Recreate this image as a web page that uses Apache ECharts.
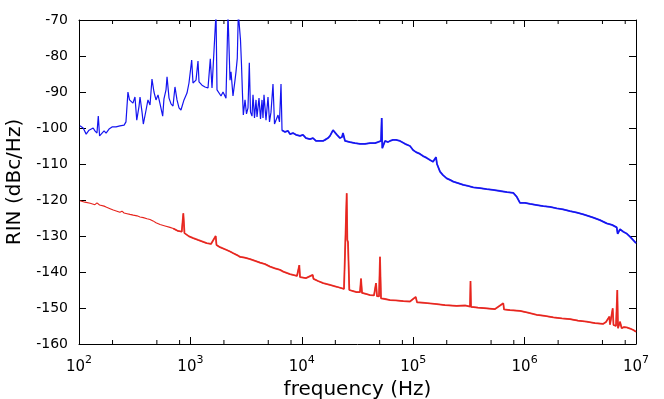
<!DOCTYPE html>
<html>
<head>
<meta charset="utf-8">
<script src="https://cdn.jsdelivr.net/npm/echarts@6/dist/echarts.min.js"></script>
<style>
html,body{margin:0;padding:0;background:#fff;}
#chart{width:664px;height:399px;}
</style>
</head>
<body>
<div id="chart"></div>
<script>
// ---- data (frequency in Hz, RIN in dBc/Hz) ----
var blueFreq = [102,109,116,123,128,134,139,145,149,153,158,168,175,186,198,215,233,254,264,275,284,293,305,318,330,346,353,368,378,400,416,434,452,471,491,512,534,564,579,604,617,643,670,698,727,758,790,823,876,932,971,1027,1055,1123,1170,1195,1271,1353,1439,1509,1563,1628,1698,1733,1806,1883,1962,2087,2175,2268,2315,2412,2515,2566,2636,2692,2760,2817,2876,2936,2986,3092,3188,3289,3379,3464,3573,3647,3762,3881,3962,4129,4259,4393,4484,4578,4772,4973,5130,5290,5513,5689,5868,6115,6306,6507,6643,7068,7518,7838,8337,8869,9634,10250,10907,11847,12604,13415,14570,15500,16160,17190,17910,19060,19860,20700,22030,22960,23430,24430,27080,30030,33310,36930,40950,45410,48310,51400,52150,52800,55840,59400,61910,65880,70070,76120,84400,93600,99590,105950,115100,122500,132200,141500,150500,160200,163500,174000,185100,199800,214000,229100,252500,281700,310400,346400,397700,456900,520300,601500,695000,791800,849600,909300,1008300,1118100,1292000,1472000,1690000,1942000,2212000,2556000,2954000,3365000,3709000,4138000,4752000,5457000,6090000,6711000,6850000,7185000,7692000,8300000,8835000,9400000,10000000];
var blueRin = [-99.4,-100.0,-101.7,-100.6,-101.1,-100.0,-100.8,-101.4,-96.7,-102.2,-101.7,-100.8,-101.4,-100.3,-99.7,-99.7,-99.4,-99.2,-98.3,-90.0,-92.2,-91.7,-93.1,-91.4,-97.8,-93.9,-91.4,-95.6,-98.9,-95.0,-92.2,-93.6,-86.4,-90.0,-92.2,-90.8,-93.3,-96.7,-91.9,-89.4,-85.8,-91.7,-93.3,-93.9,-88.6,-92.2,-94.4,-95.0,-92.2,-90.3,-87.5,-81.1,-87.5,-86.7,-81.4,-87.2,-88.1,-88.6,-88.9,-80.8,-88.9,-89.4,-68,-89.4,-88.9,-91.1,-90.0,-91.7,-68,-86.7,-84.4,-91.1,-86.7,-84.4,-80.6,-68,-68,-75.6,-82.5,-90.8,-96.4,-92.2,-96.1,-94.4,-81.9,-95.6,-96.7,-90.8,-97.2,-92.2,-96.9,-91.7,-97.5,-92.2,-97.2,-90.8,-97.8,-91.4,-98.3,-95.6,-87.8,-98.9,-99.2,-96.4,-98.3,-87.8,-100.6,-101.1,-100.8,-101.7,-101.4,-101.9,-102.2,-101.9,-102.8,-103.1,-102.8,-103.6,-103.6,-103.6,-103.3,-102.8,-102.2,-100.6,-101.1,-101.9,-102.8,-102.5,-101.4,-103.6,-103.9,-104.2,-104.4,-104.4,-104.2,-104.2,-103.9,-103.6,-97.2,-105.6,-103.6,-103.9,-103.6,-103.3,-103.3,-103.6,-104.4,-105.0,-106.1,-106.7,-107.2,-107.8,-108.3,-108.9,-109.4,-108.1,-110.0,-112.1,-113.1,-114.0,-114.4,-114.9,-115.3,-115.8,-116.1,-116.5,-116.7,-117.0,-117.2,-117.5,-117.8,-118.0,-119.1,-120.8,-120.8,-121.1,-121.4,-121.7,-121.9,-122.3,-122.6,-123.1,-123.5,-124.0,-124.4,-124.9,-125.6,-126.5,-126.9,-127.6,-129.4,-128.1,-128.8,-129.4,-130.2,-131.1,-132.0];

var redFreq = [102,113,126,139,145,149,153,158,168,177,190,203,219,233,243,254,270,287,307,332,353,378,408,434,452,462,491,534,592,656,702,774,836,864,885,894,971,1062,1170,1271,1401,1531,1687,1715,1844,2118,2268,2428,2620,2788,3073,3428,3801,4215,4674,5183,5747,6373,6824,7838,9056,9497,9634,10907,12527,12735,13977,15596,17910,20570,23920,24680,25300,25620,25980,26700,28820,31110,33310,34000,34710,37710,40950,44480,46370,47320,49320,50350,51400,55840,61910,70070,81500,93600,105300,108200,127600,162500,193000,245800,291700,323600,326900,330300,381700,456900,542500,643900,653400,739600,909300,1073000,1284000,1525000,1810000,2166000,2556000,3015000,3610000,4285000,5087000,5379000,5760000,5844000,6178000,6281000,6614000,6794000,6893000,7185000,7437000,7800000,8253000,8835000,9459000,10000000];
var redRin = [-120.2,-120.6,-120.9,-121.3,-120.8,-120.3,-121.4,-121.5,-121.7,-122.0,-122.4,-122.8,-123.1,-123.4,-123.1,-123.6,-123.8,-124.0,-124.2,-124.4,-124.7,-124.9,-125.2,-125.4,-125.1,-125.8,-126.3,-126.8,-127.2,-127.6,-127.9,-128.6,-128.8,-123.7,-129.2,-129.7,-130.1,-130.6,-131.1,-131.5,-132.0,-132.2,-130.0,-132.5,-133.1,-133.9,-134.3,-134.8,-135.3,-135.8,-136.0,-136.4,-136.9,-137.4,-137.8,-138.5,-139.0,-139.4,-139.9,-140.6,-141.1,-138.1,-141.4,-141.7,-140.8,-141.9,-142.5,-143.1,-143.6,-144.1,-144.7,-144.7,-118.1,-131.1,-131.7,-145.0,-145.3,-145.6,-145.6,-141.8,-145.8,-146.1,-146.4,-146.5,-143.1,-146.7,-146.8,-135.8,-147.3,-147.5,-147.8,-147.9,-148.1,-148.2,-146.9,-148.4,-148.6,-148.9,-149.2,-149.4,-149.3,-149.6,-142.5,-149.7,-149.9,-150.1,-150.3,-148.7,-150.4,-150.6,-150.8,-151.3,-151.9,-152.2,-152.6,-152.9,-153.1,-153.5,-153.8,-154.2,-154.4,-153.9,-152.4,-154.6,-150.1,-154.7,-155.0,-145.0,-155.6,-153.8,-155.6,-155.3,-155.4,-155.7,-156.1,-156.6];

var minorTickFreqs = [200,500,800,2000,5000,8000,20000,50000,80000,200000,500000,800000,2000000,5000000,8000000];
var yMin = -160, yMax = -70, yStep = 10;
var xMin = 100, xMax = 10000000;

function zip(a, b, fromF) {
  var r = [];
  for (var i = 0; i < a.length; i++) if (!fromF || a[i] >= fromF) r.push([a[i], b[i]]);
  return r;
}

var FONT = 'DejaVu Sans';
var chart = echarts.init(document.getElementById('chart'), null, {renderer: 'canvas'});

var BLUE = '#1414f0', RED = '#e6231c';
var axisLineStyle = {color: '#000', width: 1};
var option = {
  animation: false,
  backgroundColor: '#fff',
  grid: {left: 79, right: 28, top: 20, bottom: 55, containLabel: false, outerBoundsMode: 'none'},
  xAxis: [{
    type: 'log', logBase: 10, min: xMin, max: xMax, position: 'bottom',
    name: 'frequency (Hz)', nameLocation: 'middle', nameGap: 36,
    nameTextStyle: {fontFamily: FONT, fontSize: 20, color: '#000'},
    axisLine: {show: true, lineStyle: axisLineStyle},
    axisTick: {show: true, inside: true, length: 7, lineStyle: {color: '#000'}},
    minorTick: {show: false},
    splitLine: {show: false},
    axisLabel: {
      margin: 11, color: '#000', fontFamily: FONT,
      formatter: function (v) { return '{b|10}{s|' + Math.round(Math.log10(v)) + '}'; },
      rich: {
        b: {fontFamily: FONT, fontSize: 15, color: '#000', verticalAlign: 'bottom', lineHeight: 20},
        s: {fontFamily: FONT, fontSize: 11, color: '#000', verticalAlign: 'top', lineHeight: 12}
      }
    }
  }, {
    type: 'log', logBase: 10, min: xMin, max: xMax, position: 'top',
    axisLine: {show: true, lineStyle: axisLineStyle},
    axisTick: {show: true, inside: true, length: 7, lineStyle: {color: '#000'}},
    axisLabel: {show: false}, splitLine: {show: false}
  }],
  yAxis: [{
    type: 'value', min: yMin, max: yMax, interval: yStep, position: 'left',
    name: 'RIN (dBc/Hz)', nameLocation: 'middle', nameGap: 54,
    nameTextStyle: {fontFamily: FONT, fontSize: 20, color: '#000'},
    axisLine: {show: true, lineStyle: axisLineStyle},
    axisTick: {show: true, inside: true, length: 7, lineStyle: {color: '#000'}},
    splitLine: {show: false},
    axisLabel: {margin: 11, color: '#000', fontFamily: FONT, fontSize: 14}
  }, {
    type: 'value', min: yMin, max: yMax, interval: yStep, position: 'right',
    axisLine: {show: true, lineStyle: axisLineStyle},
    axisTick: {show: true, inside: true, length: 7, lineStyle: {color: '#000'}},
    axisLabel: {show: false}, splitLine: {show: false}
  }],
  series: [{
    type: 'line', name: 'blue', data: zip(blueFreq, blueRin),
    showSymbol: false, symbol: 'none', clip: true,
    lineStyle: {color: BLUE, width: 1.2}, z: 3
  }, {
    type: 'line', name: 'blue-hf', data: zip(blueFreq, blueRin, 6600),
    showSymbol: false, symbol: 'none', clip: true,
    lineStyle: {color: BLUE, width: 1.8, opacity: 0.85}, z: 3
  }, {
    type: 'line', name: 'red', data: zip(redFreq, redRin),
    showSymbol: false, symbol: 'none', clip: true,
    lineStyle: {color: RED, width: 1.1}, z: 2
  }, {
    type: 'line', name: 'red-hf', data: zip(redFreq, redRin, 700),
    showSymbol: false, symbol: 'none', clip: true,
    lineStyle: {color: RED, width: 1.8, opacity: 0.85}, z: 2
  }, {
    type: 'custom', name: 'minorTicks', clip: false, silent: true, z: 5,
    data: minorTickFreqs.map(function (f) { return [f]; }),
    renderItem: function (params, api) {
      var f = api.value(0);
      var b = api.coord([f, yMin]);
      var t = api.coord([f, yMax]);
      var st = {stroke: '#000', lineWidth: 1};
      return {type: 'group', children: [
        {type: 'line', shape: {x1: b[0], y1: b[1], x2: b[0], y2: b[1] - 4}, style: st},
        {type: 'line', shape: {x1: t[0], y1: t[1], x2: t[0], y2: t[1] + 4}, style: st}
      ]};
    }
  }]
};
chart.setOption(option);
</script>
</body>
</html>
